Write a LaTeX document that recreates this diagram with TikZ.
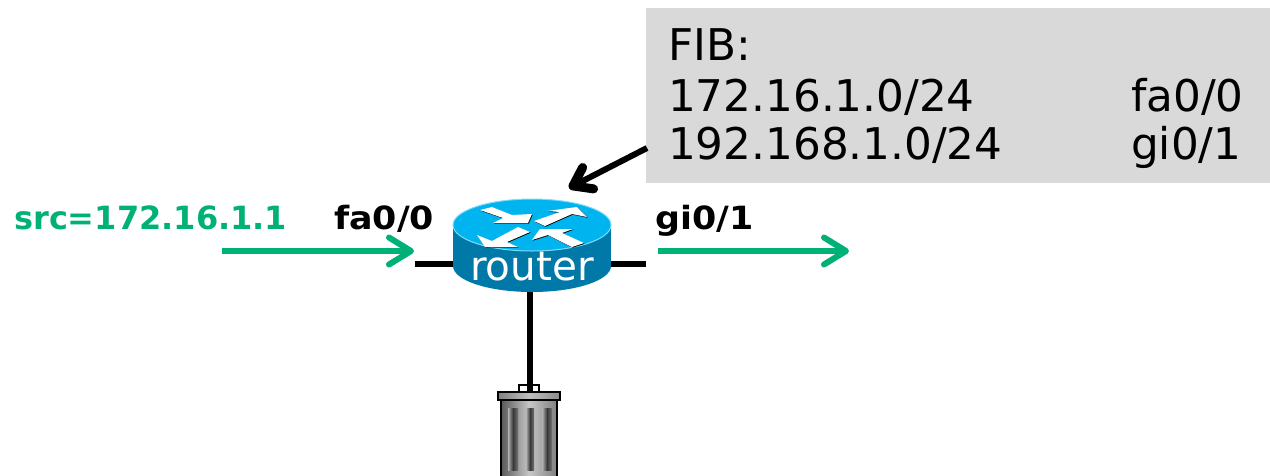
\documentclass[tikz,border=0pt]{standalone}
\usepackage{fontspec}
\setmainfont{DejaVu Sans}
\newfontfamily\portfont{DejaVu Sans}[FakeStretch=1.09]
\usetikzlibrary{arrows.meta,shapes.geometric}
\definecolor{flowgreen}{HTML}{00B177}
\definecolor{fibgray}{HTML}{D9D9D9}
\definecolor{rtop}{HTML}{00B4F0}
\definecolor{rside}{HTML}{0079A8}
\definecolor{redge}{HTML}{7FDCF8}
\tikzset{
  x=1pt,y=-1pt,
  flow/.style={draw=flowgreen,line width=5.5pt,-{Straight Barb[round,length=22pt,width=27pt,line width=6pt]}},
  wire/.style={draw=black,line width=6.5pt},
  fibtext/.style={anchor=base west,inner sep=0pt,font=\fontsize{43.7}{50}\selectfont,text=black},
  portlabel/.style={anchor=base west,inner sep=0pt,font=\fontsize{32}{36}\portfont\bfseries,text=black},
  fwd/.style={fill=white,draw=none},
  fwdshadow/.style={fill=black,draw=none},
  binrib/.style={draw=none,left color=black!30,right color=black!55,middle color=black!78},
}
\newcommand{\arrA}{(480,210) -- (492,207) -- (512,215) -- (532,214) -- (528,223) -- (493,223) -- (503,218) -- cycle}
\newcommand{\arrB}{(534,221) -- (560,212) -- (547,211) -- (577,207) -- (587,217) -- (572,214) -- (545,226) -- cycle}
\newcommand{\arrC}{(477,235) -- (492,241) -- (518,227) -- (530,232) -- (507,242) -- (518,247) -- (485,247) -- cycle}
\newcommand{\arrD}{(532,240) -- (540,229) -- (573,229) -- (562,233) -- (584,243) -- (572,247) -- (548,235) -- cycle}
\begin{document}
\begin{tikzpicture}
\useasboundingbox (0,0) rectangle (1270,475);
\clip (0,0) rectangle (1270,475);
% FIB box
\node[fill=fibgray,draw=none,inner sep=0pt,minimum width=624pt,minimum height=175pt,anchor=north west] (fib) at (646,8) {};
\node[fibtext] (fibhead) at (668,60) {FIB:};
\node[fibtext] (p1) at (668,111) {172.16.1.0/24};
\node[fibtext] (i1) at (1131,111) {fa0/0};
\node[fibtext] (p2) at (668,159) {192.168.1.0/24};
\node[fibtext] (i2) at (1131,159) {gi0/1};
% coordinates
\coordinate (fa) at (415,264);
\coordinate (faend) at (453,264);
\coordinate (gi) at (646,264);
\coordinate (giend) at (609,264);
\coordinate (rbot) at (530,291);
\coordinate (bintop) at (530,391);
\coordinate (fibout) at (647,148);
\coordinate (rtip) at (569,188);
\coordinate (a1) at (222,251);
\coordinate (a2) at (414,251);
\coordinate (b1) at (658,251);
\coordinate (b2) at (849,251);
% wires
\draw[wire] (fa) -- (faend);
\draw[wire] (giend) -- (gi);
\draw[wire] (rbot) -- (bintop);
% router
\fill[rside] (532,266) ellipse[x radius=79,y radius=26];
\fill[rside] (453,225) rectangle (611,266);
\fill[rtop,draw=redge,line width=1pt] (532,225) ellipse[x radius=79,y radius=26];
% router arrows: shadows then white
\begin{scope}[shift={(0.7,0.7)}]
\fill[fwdshadow] \arrA;
\fill[fwdshadow] \arrB;
\fill[fwdshadow] \arrC;
\fill[fwdshadow] \arrD;
\end{scope}
\fill[fwd] \arrA;
\fill[fwd] \arrB;
\fill[fwd] \arrC;
\fill[fwd] \arrD;
\node[anchor=base,inner sep=0pt,text=white,font=\fontsize{40.5}{44}\selectfont] (router) at (532,280) {router};
% trash bin
\draw[draw=black,line width=2pt,fill=white] (518.5,391) -- (518.5,385) -- (538.5,385) -- (538.5,391);
\draw[wire] (530,383) -- (530,391);
\shade[left color=black!65,right color=black!50,middle color=black!22,draw=black,line width=2pt] (501,399) rectangle (557,480);
\shade[left color=black!50,right color=black!45,middle color=black!25,draw=black,line width=2pt] (498,391.5) rectangle (560,399.5);
\shade[binrib] (508,408) rectangle (518,470);
\shade[binrib] (526,408) rectangle (534,470);
\shade[binrib] (542,408) rectangle (552,470);
% green flow
\draw[flow] (a1) -- (a2);
\draw[flow] (b1) -- (b2);
% labels
\node[anchor=base west,inner sep=0pt,text=flowgreen,font=\fontsize{32}{36}\selectfont\bfseries] (src) at (14,229) {src=172.16.1.1};
\node[portlabel] (falabel) at (334,229) {fa0/0};
\node[portlabel] (gilabel) at (655,229) {gi0/1};
% FIB pointer
\draw[draw=black,line width=6pt,-{Straight Barb[round,length=17pt,width=24pt,line width=9pt]}] (fibout) -- (rtip);
\end{tikzpicture}
\end{document}
